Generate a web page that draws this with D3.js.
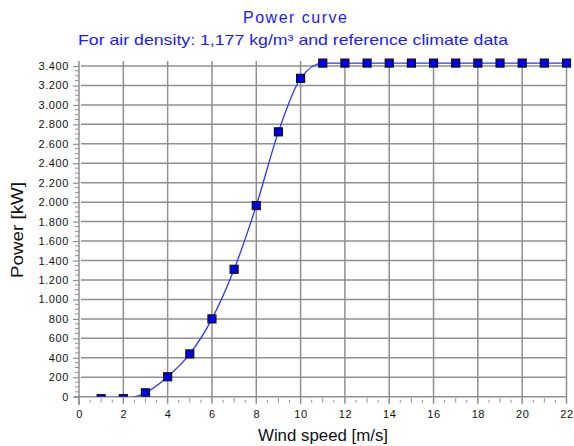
<!DOCTYPE html>
<html><head><meta charset="utf-8">
<script src="https://cdn.jsdelivr.net/npm/d3@7"></script>
<style>body{margin:0;background:#fff}svg{display:block}text{font-family:"Liberation Sans",Arial,sans-serif}</style>
</head><body><svg id="c" width="574" height="446"></svg>
<script>
const windSpeed = [1,2,3,4,5,6,7,8,9,10,11,12,13,14,15,16,17,18,19,20,21,22];
const powerKW   = [-20,-20,40,205,440,800,1310,1965,2723,3273,3430,3430,3430,3430,3430,3430,3430,3430,3430,3430,3430,3430];
const xTicks = [0,2,4,6,8,10,12,14,16,18,20,22];
const yTicks = [0,200,400,600,800,1000,1200,1400,1600,1800,2000,2200,2400,2600,2800,3000,3200,3400];
const yTickLabels = ["0","200","400","600","800","1.000","1.200","1.400","1.600","1.800","2.000","2.200","2.400","2.600","2.800","3.000","3.200","3.400"];
const titleText = "Power curve";
const subtitleText = "For air density: 1,177 kg/m³ and reference climate data";
const xTitle = "Wind speed [m/s]";
const yTitle = "Power [kW]";

const svg = d3.select("#c");
const x = d3.scaleLinear().domain([0,22]).range([79,566.5]);
const y = d3.scaleLinear().domain([0,3400]).range([396.7,66]);
const grid = "#8f8f8f";
const axisTop = 61;

// clip
svg.append("defs").append("clipPath").attr("id","pc").append("rect")
  .attr("x",79).attr("y",50).attr("width",495).attr("height",396.7-50);

// gridlines
svg.append("g").selectAll("line").data(yTicks.filter(d=>d>0)).join("line")
  .attr("x1",81).attr("x2",x(22)).attr("y1",d=>y(d)).attr("y2",d=>y(d))
  .attr("stroke",grid).attr("stroke-width",1.5);
svg.append("g").selectAll("line").data(xTicks.filter(d=>d>0)).join("line")
  .attr("x1",d=>x(d)).attr("x2",d=>x(d)).attr("y1",axisTop).attr("y2",y(0)+7)
  .attr("stroke",grid).attr("stroke-width",1.5);

// y axis
const yAxis = d3.axisLeft(y).tickValues(yTicks).tickSize(6).tickPadding(4)
  .tickFormat((d,i)=>yTickLabels[i]);
const gy = svg.append("g").attr("transform","translate(79,0)").call(yAxis);
gy.select(".domain").remove();
gy.selectAll(".tick line").attr("stroke",grid).attr("stroke-width",1.2);
gy.selectAll(".tick text").attr("font-size",11).attr("letter-spacing",0.6).attr("fill","#111");
const yMinor = d3.range(0,3401,50).filter(d=>d%200!==0);
svg.append("g").selectAll("line").data(yMinor).join("line")
  .attr("x1",75).attr("x2",79).attr("y1",d=>y(d)).attr("y2",d=>y(d))
  .attr("stroke",grid).attr("stroke-width",1);
svg.append("line").attr("x1",79).attr("x2",79).attr("y1",axisTop).attr("y2",y(0)+8)
  .attr("stroke",grid).attr("stroke-width",1.5);

// x axis
const xAxis = d3.axisBottom(x).tickValues(xTicks).tickSize(0).tickPadding(14);
const gx = svg.append("g").attr("transform",`translate(0,${y(0)})`).call(xAxis);
gx.select(".domain").remove();
gx.selectAll(".tick text").attr("font-size",11).attr("letter-spacing",0.6).attr("fill","#111");
svg.append("line").attr("x1",74).attr("x2",x(22)).attr("y1",y(0)).attr("y2",y(0))
  .attr("stroke",grid).attr("stroke-width",1.5);
const xMinor = d3.range(0.5,22,0.5).filter(d=>d%2!==0);
svg.append("g").selectAll("line").data(xMinor).join("line")
  .attr("x1",d=>x(d)).attr("x2",d=>x(d))
  .attr("y1",d=>y(0)+(d%1===0?1.5:3)).attr("y2",y(0)+6)
  .attr("stroke",grid).attr("stroke-width",1);
svg.append("line").attr("x1",x(0)).attr("x2",x(0)).attr("y1",y(0)).attr("y2",y(0)+8)
  .attr("stroke",grid).attr("stroke-width",1.5);

// data
const pts = windSpeed.map((w,i)=>[w,powerKW[i]]);
const plot = svg.append("g").attr("clip-path","url(#pc)");
plot.append("path").datum(pts)
  .attr("d",d3.line().x(d=>x(d[0])).y(d=>y(d[1])).curve(d3.curveMonotoneX))
  .attr("fill","none").attr("stroke","#2a35ff").attr("stroke-width",1.3);
const ms = 8;
plot.selectAll("rect.m").data(pts).join("rect").attr("class","m")
  .attr("x",d=>x(d[0])-ms/2).attr("y",d=>y(d[1])-ms/2).attr("width",ms).attr("height",ms)
  .attr("fill","#0000ee").attr("stroke","#111").attr("stroke-width",1.2);

// titles
svg.append("text").attr("x",295).attr("y",23).attr("text-anchor","middle")
  .attr("font-size",16).attr("fill","#1a1aff").attr("textLength",104).attr("lengthAdjust","spacing").text(titleText);
svg.append("text").attr("x",293).attr("y",45).attr("text-anchor","middle")
  .attr("font-size",15).attr("fill","#1a1aff").attr("textLength",430).attr("lengthAdjust","spacingAndGlyphs").text(subtitleText);
svg.append("text").attr("x",323).attr("y",441).attr("text-anchor","middle")
  .attr("font-size",16).attr("fill","#111").attr("textLength",130).attr("lengthAdjust","spacingAndGlyphs").text(xTitle);
svg.append("text").attr("transform","translate(23,230) rotate(-90)").attr("text-anchor","middle")
  .attr("font-size",16).attr("fill","#111").attr("textLength",96).attr("lengthAdjust","spacingAndGlyphs").text(yTitle);
</script></body></html>
